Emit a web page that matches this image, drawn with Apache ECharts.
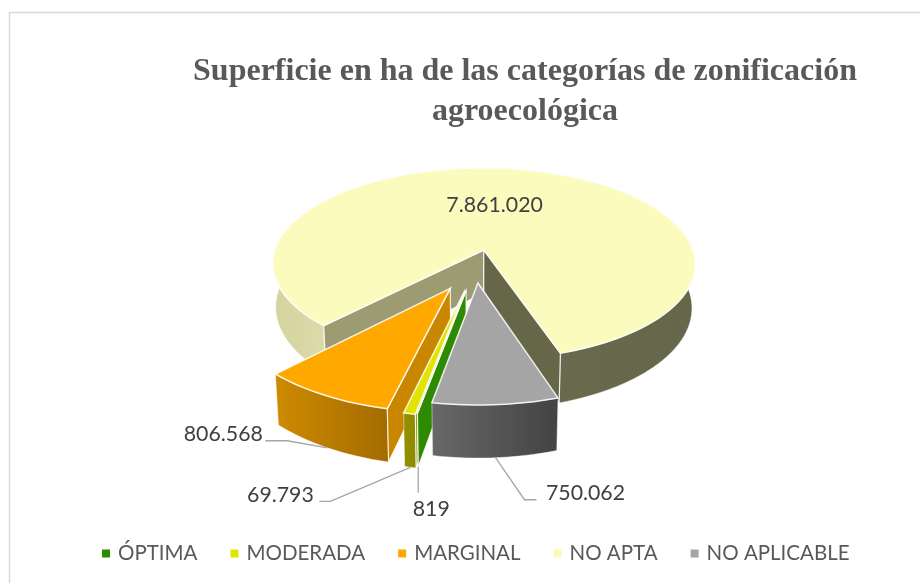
<!DOCTYPE html>
<html>
<head>
<meta charset="utf-8">
<style>
  html, body { margin: 0; padding: 0; background: #fff; }
  #chart { width: 920px; height: 583px; }
</style>
</head>
<body>
<div id="chart"></div>
<script src="https://cdn.jsdelivr.net/npm/echarts@6/dist/echarts.min.js"></script>
<script>
var categories = ["ÓPTIMA", "MODERADA", "MARGINAL", "NO APTA", "NO APLICABLE"];
var values = [819, 69793, 806568, 7861020, 750062];

// look of each slice, same order as categories
var topColors = ["#2E8A00", "#E1E300", "#FFA800", "#FBFBBD", "#A5A5A5"];
var wallColors = ["#2E8A00", "#959100", "#C98700", "#9C9B72", "#666666"];
var endWallColors = ["#2E8A00", "#959100", "#C98700", "#666649", "#666666"];
var outerStops = [
  [[0, "#2E8A00"], [1, "#2E8A00"]],
  [[0, "#959100"], [1, "#8C8900"]],
  [[0, "#CE8A00"], [1, "#A36B00"]],
  [[0, "#D5D49E"], [0.13, "#DBDAAA"], [0.6, "#6A6A4E"], [1, "#66664A"]],
  [[0, "#686868"], [1, "#434343"]]
];
var explode = [0.236, 0.245, 0.24, 0.18, 0.16];
// label offset from the slice's lower outer edge, and the leader line bends
var labelOffsets = [[13, 42], [-130, 28], [-104, -14], [-28, -2], [90, 35]];
var leaderBends = [[[0, 1], [0, 26]], [[-80, 34], [-91, 34]], [[-40, -7], [-62, -7]], null, [[29, 42], [41, 42]]];
var drawOrder = [3, 2, 1, 0, 4];

var firstAngle = 190.35;
var cx = 475.5, cy = 266.9, radiusX = 214.5, radiusY = 98.7, tilt = 0.1476, depth = 44;

var total = values.reduce(function (a, b) { return a + b; }, 0);
var starts = [];
values.reduce(function (acc, v, i) {
  starts[i] = acc;
  return acc + v / total * 360;
}, firstAngle);

function rad(a) { return a * Math.PI / 180; }

// disc position to screen, with the near side of the pie drawn bigger
function project(X, Y, low) {
  var w = 1 + tilt * Y;
  var x = radiusX * X / w;
  var y = cy - radiusY * Y / w;
  if (low) {
    return [cx + x * 0.985, y + depth / w];
  }
  return [cx + x, y];
}

function formatValue(v) {
  return String(v).replace(/\B(?=(\d{3})+$)/g, ".");
}

function wallArea(p) {
  var sum = 0;
  for (var i = 0; i < p.length; i++) {
    var q = p[(i + 1) % p.length];
    sum += p[i][0] * q[1] - q[0] * p[i][1];
  }
  return sum;
}

function renderSlice(i) {
  var a0 = starts[i];
  var sweep = values[i] / total * 360;
  var mid = a0 + sweep / 2;
  var ox = explode[i] * Math.sin(rad(mid));
  var oy = explode[i] * Math.cos(rad(mid));
  function rim(a, low) {
    return project(ox + Math.sin(rad(a)), oy + Math.cos(rad(a)), low);
  }
  var steps = Math.max(1, Math.ceil(sweep / 2));
  var arcTop = [], arcLow = [];
  for (var s = 0; s <= steps; s++) {
    arcTop.push(rim(a0 + sweep * s / steps, false));
    arcLow.push(rim(a0 + sweep * s / steps, true));
  }
  var apexTop = project(ox, oy, false);
  var apexLow = project(ox, oy, true);
  var edge = "rgba(255,255,255,0.85)";
  var children = [];

  // outer wall
  children.push({
    type: "polygon",
    shape: { points: arcTop.concat(arcLow.slice().reverse()) },
    style: {
      fill: new echarts.graphic.LinearGradient(0, 0, 1, 0, outerStops[i].map(function (p) {
        return { offset: p[0], color: p[1] };
      })),
      stroke: "rgba(255,255,255,0.45)",
      lineWidth: 1
    }
  });

  // cut faces, only the ones turned to the viewer
  var startWall = [apexTop, arcTop[0], arcLow[0], apexLow];
  var endWall = [apexTop, arcTop[steps], arcLow[steps], apexLow];
  if (wallArea(startWall) < 0) {
    children.push({ type: "polygon", shape: { points: startWall }, style: { fill: wallColors[i], stroke: edge, lineWidth: 1.2 } });
  }
  if (wallArea(endWall) > 0) {
    children.push({ type: "polygon", shape: { points: endWall }, style: { fill: endWallColors[i], stroke: edge, lineWidth: 1.2 } });
  }

  // top face
  children.push({
    type: "polygon",
    shape: { points: [apexTop].concat(arcTop) },
    style: { fill: topColors[i], stroke: edge, lineWidth: 1.5 }
  });

  // value label and leader line
  var anchor = rim(mid, true);
  var off = labelOffsets[i];
  if (leaderBends[i]) {
    children.push({
      type: "polyline",
      shape: {
        points: [anchor].concat(leaderBends[i].map(function (b) {
          return [anchor[0] + b[0], anchor[1] + b[1]];
        }))
      },
      style: { fill: "none", stroke: "#A6A6A6", lineWidth: 1.3 }
    });
  }
  children.push({
    type: "text",
    style: {
      text: formatValue(values[i]),
      x: anchor[0] + off[0],
      y: anchor[1] + off[1],
      align: "center",
      verticalAlign: "middle",
      font: '21.3px Lato, "Open Sans", sans-serif',
      fill: "#404040"
    }
  });
  return { type: "group", children: children };
}

var myChart = echarts.init(document.getElementById("chart"), null, { renderer: "canvas" });
myChart.setOption({
  animation: false,
  backgroundColor: "#fff",
  title: {
    text: "Superficie en ha de las categorías de zonificación\nagroecológica",
    left: 520,
    top: 47,
    textAlign: "center",
    textStyle: {
      fontFamily: "Liberation Serif",
      fontWeight: "bold",
      fontSize: 32,
      lineHeight: 40,
      color: "#595959"
    }
  },
  legend: {
    data: categories,
    left: 97,
    top: 538,
    icon: "rect",
    itemWidth: 8,
    itemHeight: 8,
    itemGap: 33,
    textStyle: { fontFamily: "Lato", fontSize: 20.5, color: "#595959", padding: [0, 0, 0, 3] }
  },
  graphic: [{
    type: "polyline",
    silent: true,
    shape: { points: [[9.5, 583], [9.5, 12.5], [920, 12.5]] },
    style: { fill: "none", stroke: "#D9D9D9", lineWidth: 1.5 }
  }],
  series: drawOrder.map(function (i) {
    return {
      type: "custom",
      name: categories[i],
      coordinateSystem: "none",
      itemStyle: { color: topColors[i] },
      data: [[values[i]]],
      renderItem: function () { return renderSlice(i); }
    };
  })
});
</script>
</body>
</html>
